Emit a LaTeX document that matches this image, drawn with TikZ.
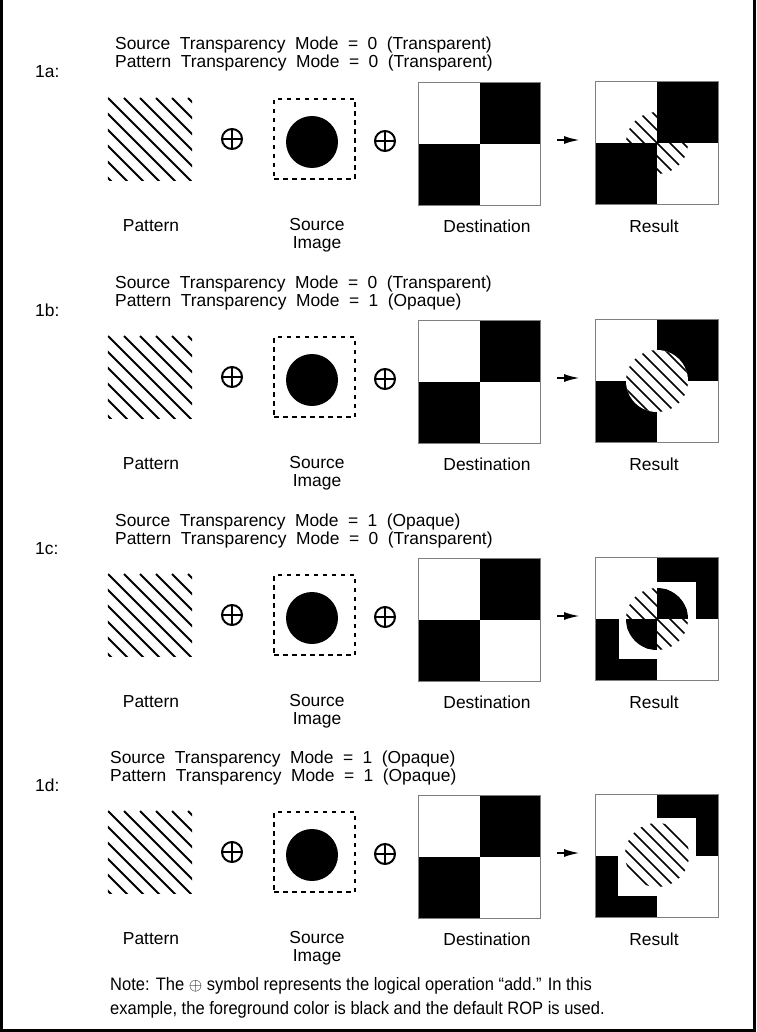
\documentclass[tikz,border=0pt]{standalone}
\usepackage{fontspec}
\setmainfont{Liberation Sans}
\newfontfamily\notefont[FakeStretch=0.917]{Liberation Sans}
\usetikzlibrary{arrows.meta}
\tikzset{
 txt/.style={font={\fontsize{17.4}{20}\selectfont\spaceskip=9.5pt\relax}, inner sep=0pt, anchor=base west},
 lbl/.style={font={\fontsize{17.4}{18.5}\selectfont}, inner sep=0pt, align=center},
 note/.style={font={\notefont\fontsize{18}{20}\selectfont}, inner sep=0pt, anchor=base west},
 hatch/.style={line width=1.8pt},
 hatchr/.style={line width=1.6pt},
 sq/.style={inner sep=0pt, minimum size=122pt, fill=white},
 frame/.style={draw=gray, line width=0.8pt},
 opl/.style={circle, draw, line width=2pt, minimum size=20pt, inner sep=0pt},
 srcbox/.style={draw, dash pattern=on 4.5pt off 4.5pt, line width=1.3pt, minimum width=81pt, minimum height=80pt, inner sep=0pt},
 disc/.style={circle, fill=black, minimum size=52pt, inner sep=0pt},
 arr/.style={-{Latex[length=16pt,width=8pt]}, line width=2.2pt},
}
\newcommand\hatchres{\foreach \k in {-5,...,5}{\draw[hatchr] ({13*\k-60},-60) -- ++(120,120);}}
\newcommand\panel[7]{%
\begin{scope}[shift={(0,#2)}]
 \node[txt] (ta#1) at (#3,50) {#5};
 \node[txt] (tb#1) at (#3,68) {#6};
 \node[txt] (lab#1) at (35,78) {#4};
 % pattern
 \node[inner sep=0pt, minimum width=84pt, minimum height=82pt] (pat#1) at (150,139) {};
 \begin{scope}
  \clip (pat#1.north west) rectangle (pat#1.south east);
  \foreach \k in {-5,...,5}{\draw[hatch] ({108+16*\k},98) -- ++(100,100);}
 \end{scope}
 % oplus 1
 \node[opl] (pa#1) at (232,139) {};
 \draw[line width=2pt] (pa#1.north) -- (pa#1.south) (pa#1.west) -- (pa#1.east);
 % source
 \node[srcbox] (src#1) at (314.5,139) {};
 \node[disc] (img#1) at (312,142) {};
 % oplus 2
 \node[opl] (pb#1) at (385,141) {};
 \draw[line width=2pt] (pb#1.north) -- (pb#1.south) (pb#1.west) -- (pb#1.east);
 % destination
 \node[sq] (dst#1) at (479.5,144) {};
 \fill (dst#1.north) rectangle (dst#1.east);
 \fill (dst#1.west) rectangle (dst#1.south);
 \draw[frame] (dst#1.north west) rectangle (dst#1.south east);
 % arrow
 \coordinate (as#1) at (557,140);
 \coordinate (ae#1) at (580,140);
 \draw[arr] (as#1) -- (ae#1);
 % result
 \node[sq] (res#1) at (657,143) {};
 \begin{scope}[shift={(657,143)}]
  \fill (0,-61) rectangle (61,0);
  \fill (-61,0) rectangle (0,61);
  #7
 \end{scope}
 \draw[frame] (res#1.north west) rectangle (res#1.south east);
 % labels
 \node[lbl] (lp#1) at (151,226) {Pattern};
 \node[lbl] (ls#1) at (317,235) {Source\\Image};
 \node[lbl] (ld#1) at (487,226) {Destination};
 \node[lbl] (lr#1) at (654,226) {Result};
\end{scope}}
\begin{document}
\begin{tikzpicture}[x=1pt,y=-1pt]
\useasboundingbox (0,0) rectangle (756,1032);
\fill[white] (0,0) rectangle (756,1032);
\draw[line width=2.5pt] (1.5,0) -- (1.5,1030.5) -- (754.5,1030.5) -- (754.5,0);

\panel{a}{0}{115}{1a:}{Source Transparency Mode = 0 (Transparent)}{Pattern Transparency Mode = 0 (Transparent)}{%
 \begin{scope}\clip (0,0) circle (31); \hatchres\end{scope}}

\panel{b}{238}{115}{1b:}{Source Transparency Mode = 0 (Transparent)}{Pattern Transparency Mode = 1 (Opaque)}{%
 \fill[white] (0,0) circle (31);
 \begin{scope}\clip (0,0) circle (31); \hatchres\end{scope}}

\panel{c}{476}{115}{1c:}{Source Transparency Mode = 1 (Opaque)}{Pattern Transparency Mode = 0 (Transparent)}{%
 \fill[white] (-38,-37) rectangle (39,40);
 \begin{scope}\clip (0,0) circle (31);
  \fill (0,-31) rectangle (31,0);
  \fill (-31,0) rectangle (0,31);
  \hatchres\end{scope}}

\panel{d}{713}{110}{1d:}{Source Transparency Mode = 1 (Opaque)}{Pattern Transparency Mode = 1 (Opaque)}{%
 \fill[white] (-39,-38) rectangle (39,40);
 \begin{scope}\clip (0,-1) circle (32); \hatchres\end{scope}}

\node[note] (n1) at (110,990) {Note: The $\oplus$ symbol represents the logical operation “add.” In this};
\node[note] (n2) at (110,1014) {example, the foreground color is black and the default ROP is used.};
\end{tikzpicture}
\end{document}
